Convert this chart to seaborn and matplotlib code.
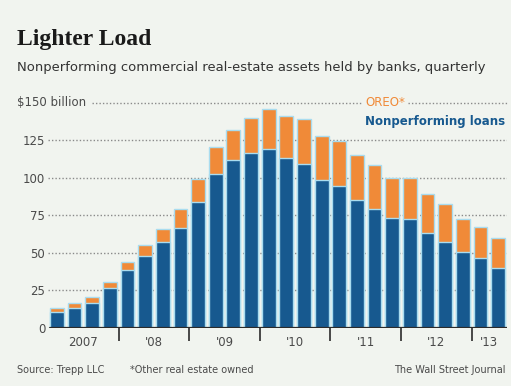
import matplotlib
matplotlib.use("Agg")
import matplotlib.pyplot as plt
import seaborn as sns
import pandas as pd
import numpy as np

# ---- data ----
quarters = [f"{y}Q{q}" for y in range(2007, 2013) for q in range(1, 5)] + ["2013Q1", "2013Q2"]
loans = [10.7, 12.9, 16.7, 26.2, 38.5, 48.0, 57.0, 66.3, 84.0, 102.5, 111.8, 116.3,
         118.9, 112.9, 109.1, 98.5, 94.5, 85.1, 78.9, 72.9, 72.3, 63.3, 57.3, 50.2, 46.2, 39.6]
oreo = [2.2, 3.4, 3.5, 4.0, 5.1, 7.1, 8.6, 12.7, 14.9, 18.2, 20.0, 23.7,
        26.7, 28.2, 29.8, 29.3, 30.2, 30.0, 29.6, 26.7, 27.3, 25.8, 24.9, 22.1, 21.2, 20.0]
year_labels = ["2007", "'08", "'09", "'10", "'11", "'12", "'13"]
ytick_vals = [0, 25, 50, 75, 100, 125, 150]

df = pd.DataFrame({"quarter": quarters, "loans": loans, "oreo": oreo})
df["total"] = df["loans"] + df["oreo"]

BG = "#f1f4ef"
BLUE = "#17598f"
ORANGE = "#f08a38"
EDGE = "#a9dcef"
GRAY = "#4a4a4a"

sns.set_theme(style="white")
plt.rcParams["font.family"] = ["DejaVu Sans"]

W, H = 511, 386
fig = plt.figure(figsize=(W / 100, H / 100), dpi=100, facecolor=BG)
ax = fig.add_axes([48 / W, 58.3 / H, 459 / W, 225 / H])
ax.set_facecolor(BG)

sns.barplot(data=df, x="quarter", y="total", order=quarters, color=ORANGE, saturation=1,
            width=0.78, edgecolor=EDGE, linewidth=1.0, ax=ax, zorder=3)
sns.barplot(data=df, x="quarter", y="loans", order=quarters, color=BLUE, saturation=1,
            width=0.78, edgecolor=EDGE, linewidth=1.0, ax=ax, zorder=4)

ax.set_xlim(-0.5, len(quarters) - 0.5)
ax.set_ylim(0, 150)
for s in ax.spines.values():
    s.set_visible(False)
ax.set_xlabel("")
ax.set_ylabel("")

# gridlines (dotted)
for v in ytick_vals[1:-1]:
    ax.axhline(v, color="#8a8a8a", lw=1.0, ls=(0, (1, 1.5)), zorder=1)
xmin150 = (92 - 48) / 459
ax.axhline(150, xmin=xmin150, color="#8a8a8a", lw=1.0, ls=(0, (1, 1.5)), zorder=1, clip_on=False)
ax.axhline(0, color="#2b2b2b", lw=1.6, zorder=6, xmin=0.005)

# y tick labels
ax.set_yticks(ytick_vals)
ax.set_yticklabels([str(v) for v in ytick_vals[:-1]] + [""], fontsize=8.5, color=GRAY)
ax.tick_params(axis="y", length=0, pad=2)
fig.text(17 / W, 1 - 103 / H, "$150 billion", fontsize=8.5, color=GRAY, va="center", ha="left")

# x axis: year labels at group centers, boundary ticks between years
n = len(quarters)
starts = list(range(0, n, 4))
centers = [min(s + 1.5, (s + min(s + 4, n) - 1) / 2) for s in starts]
ax.set_xticks(centers)
ax.set_xticklabels(year_labels, fontsize=8.5, color=GRAY)
ax.set_xticks([s - 0.5 for s in starts[1:]], minor=True)
ax.tick_params(axis="x", which="major", length=0, pad=6)
ax.tick_params(axis="x", which="minor", length=9, width=1.2, color="#2b2b2b", direction="out", bottom=True)

# legend texts
fig.text(365 / W, 1 - 103 / H, "OREO*", fontsize=8.5, color=ORANGE, va="center", ha="left",
         bbox=dict(facecolor=BG, edgecolor="none", pad=1.5))
fig.text(365 / W, 1 - 122 / H, "Nonperforming loans", fontsize=8.5, fontweight="bold",
         color=BLUE, va="center", ha="left")

# title / subtitle
fig.text(17 / W, 1 - 40 / H, "Lighter Load", fontsize=17, fontweight="bold",
         family="Liberation Serif", color="#1a1a1a", va="center", ha="left")
fig.text(17 / W, 1 - 67 / H, "Nonperforming commercial real-estate assets held by banks, quarterly",
         fontsize=9.45, color="#333333", va="center", ha="left")

# footer
fig.text(17 / W, 1 - 370 / H, "Source: Trepp LLC", fontsize=7, color=GRAY, va="center", ha="left")
fig.text(130 / W, 1 - 370 / H, "*Other real estate owned", fontsize=7, color=GRAY, va="center", ha="left")
fig.text(506 / W, 1 - 370 / H, "The Wall Street Journal", fontsize=7, color=GRAY, va="center", ha="right")

fig.savefig("out.png", dpi=100, facecolor=BG)
